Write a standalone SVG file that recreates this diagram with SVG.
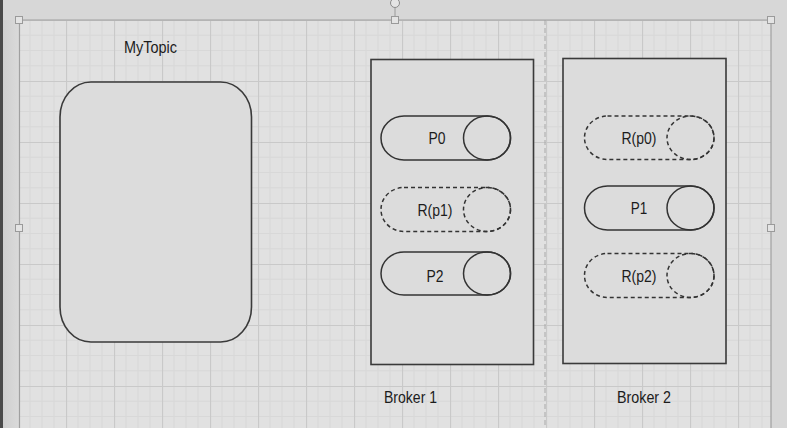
<svg xmlns="http://www.w3.org/2000/svg" width="787" height="428" viewBox="0 0 787 428">
  <defs>
    <pattern id="grid" patternUnits="userSpaceOnUse" x="18" y="20" width="48" height="61">
      <rect width="48" height="61" fill="#e1e1e1"/>
      <g stroke="#d8d8d8" stroke-width="1">
        <line x1="12" y1="0" x2="12" y2="61"/>
        <line x1="24" y1="0" x2="24" y2="61"/>
        <line x1="36" y1="0" x2="36" y2="61"/>
        <line x1="0" y1="15.25" x2="48" y2="15.25"/>
        <line x1="0" y1="30.5" x2="48" y2="30.5"/>
        <line x1="0" y1="45.75" x2="48" y2="45.75"/>
      </g>
      <g stroke="#c9c9c9" stroke-width="1.2">
        <line x1="0.5" y1="0" x2="0.5" y2="61"/>
        <line x1="0" y1="0.5" x2="48" y2="0.5"/>
      </g>
    </pattern>
    <linearGradient id="leftbar" x1="0" y1="0" x2="1" y2="0">
      <stop offset="0" stop-color="#cfcfcf"/>
      <stop offset="1" stop-color="#dadada"/>
    </linearGradient>
  </defs>
  <style>
    .shape { fill: #dcdcdc; stroke: #3a3a3a; stroke-width: 1.6; }
    .solid { fill: none; stroke: #333; stroke-width: 1.5; }
    .dashed { fill: none; stroke: #333; stroke-width: 1.5; stroke-dasharray: 4 3; }
    .label { font-family: "Liberation Sans", Arial, sans-serif; font-size: 17px; fill: #1c1c1c; }
    .handle { fill: #e4e4e4; stroke: #9a9a9a; stroke-width: 1; }
  </style>

  <!-- editor chrome -->
  <rect x="0" y="0" width="787" height="428" fill="#d7d7d7"/>
  <rect x="0" y="0" width="3" height="428" fill="#4a4a4a"/>
  <rect x="3" y="20" width="16" height="408" fill="url(#leftbar)"/>
  <rect x="19" y="20" width="752" height="408" fill="url(#grid)"/>
  <line x1="545" y1="20" x2="545" y2="428" stroke="#a8a8a8" stroke-width="1" stroke-dasharray="5 3"/>
  <g stroke="#a0a0a0" stroke-width="1.2" fill="none">
    <line x1="19" y1="20" x2="771" y2="20"/>
    <line x1="19.5" y1="20" x2="19.5" y2="428"/>
    <line x1="771" y1="20" x2="771" y2="428"/>
  </g>
  <line x1="395" y1="8" x2="395" y2="20" stroke="#9a9a9a" stroke-width="1"/>
  <circle cx="395" cy="3" r="4.5" fill="#e4e4e4" stroke="#8a8a8a" stroke-width="1"/>
  <rect class="handle" x="15.5" y="16.5" width="7" height="7"/>
  <rect class="handle" x="391.5" y="16.5" width="7" height="7"/>
  <rect class="handle" x="767.5" y="16.5" width="7" height="7"/>
  <rect class="handle" x="15.5" y="224.5" width="7" height="7"/>
  <rect class="handle" x="767.5" y="224.5" width="7" height="7"/>

  <!-- topic -->
  <g id="mytopic">
    <text class="label" x="150.5" y="52.5" text-anchor="middle" textLength="53" lengthAdjust="spacingAndGlyphs">MyTopic</text>
    <rect class="shape" x="60" y="82" width="191.5" height="260" rx="31" ry="35"/>
  </g>

  <!-- broker 1 -->
  <g id="broker1">
    <rect class="shape" x="371" y="59.5" width="162.5" height="305"/>
    <text class="label" x="410.5" y="402.5" text-anchor="middle" textLength="53" lengthAdjust="spacingAndGlyphs">Broker 1</text>
  </g>
  <g id="b1-p0">
    <rect class="solid" x="381" y="116" width="129.5" height="44" rx="23" ry="22"/>
    <ellipse class="solid" cx="487" cy="138" rx="23.5" ry="22"/>
    <text class="label" x="437" y="144" text-anchor="middle" textLength="17" lengthAdjust="spacingAndGlyphs">P0</text>
  </g>
  <g id="b1-rp1">
    <rect class="dashed" x="381" y="187.5" width="129.5" height="44" rx="23" ry="22"/>
    <ellipse class="dashed" cx="487" cy="209.5" rx="23.5" ry="22"/>
    <text class="label" x="435" y="215.5" text-anchor="middle" textLength="35" lengthAdjust="spacingAndGlyphs">R(p1)</text>
  </g>
  <g id="b1-p2">
    <rect class="solid" x="381" y="252" width="129.5" height="43" rx="23" ry="21.5"/>
    <ellipse class="solid" cx="487" cy="273.5" rx="23.5" ry="21.5"/>
    <text class="label" x="435" y="282" text-anchor="middle" textLength="17" lengthAdjust="spacingAndGlyphs">P2</text>
  </g>

  <!-- broker 2 -->
  <g id="broker2">
    <rect class="shape" x="563" y="58.5" width="163" height="305"/>
    <text class="label" x="644" y="402.5" text-anchor="middle" textLength="54" lengthAdjust="spacingAndGlyphs">Broker 2</text>
  </g>
  <g id="b2-rp0">
    <rect class="dashed" x="584.5" y="116" width="129.5" height="43.5" rx="23" ry="21.75"/>
    <ellipse class="dashed" cx="690.5" cy="137.75" rx="23.5" ry="21.75"/>
    <text class="label" x="639" y="143.75" text-anchor="middle" textLength="35" lengthAdjust="spacingAndGlyphs">R(p0)</text>
  </g>
  <g id="b2-p1">
    <rect class="solid" x="584.5" y="186" width="129.5" height="44" rx="23" ry="22"/>
    <ellipse class="solid" cx="690.5" cy="208" rx="23.5" ry="22"/>
    <text class="label" x="639" y="214" text-anchor="middle" textLength="16.5" lengthAdjust="spacingAndGlyphs">P1</text>
  </g>
  <g id="b2-rp2">
    <rect class="dashed" x="584.5" y="253.5" width="129.5" height="44" rx="23" ry="22"/>
    <ellipse class="dashed" cx="690.5" cy="275.5" rx="23.5" ry="22"/>
    <text class="label" x="639" y="281.5" text-anchor="middle" textLength="35" lengthAdjust="spacingAndGlyphs">R(p2)</text>
  </g>
</svg>
